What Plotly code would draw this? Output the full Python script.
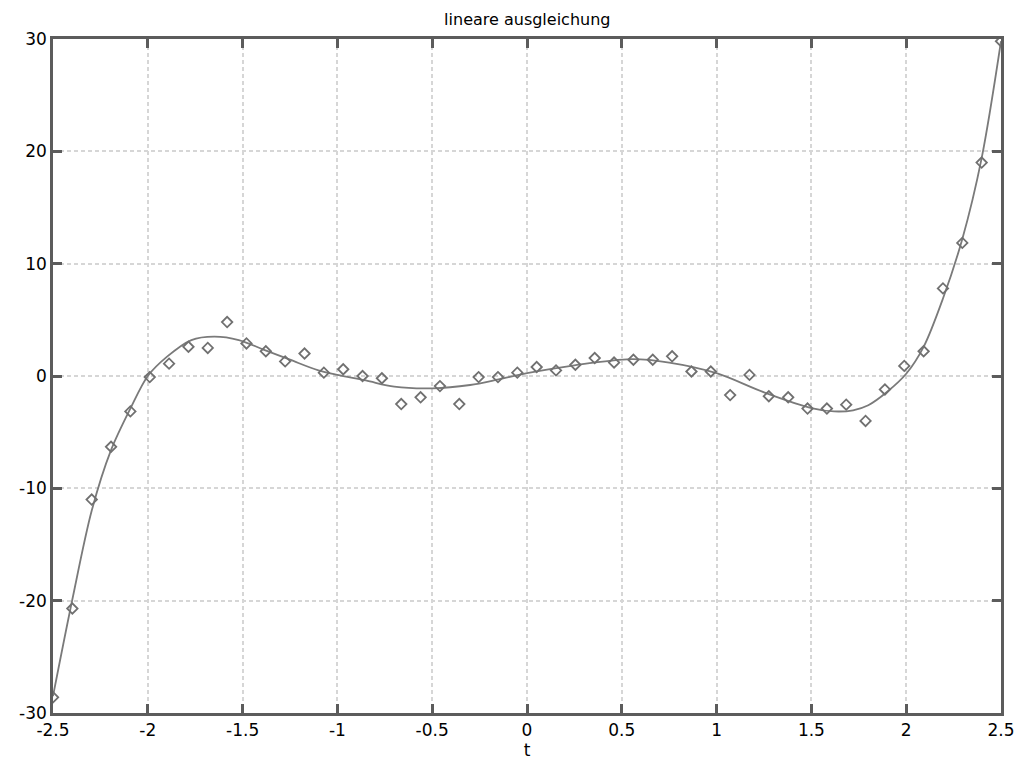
import numpy as np
import plotly.graph_objects as go

# measured samples: 50 equally spaced values of t on [-2.5, 2.5]
t_meas = np.linspace(-2.5, 2.5, 50)
y_meas = [
    -28.6, -20.7, -11.0, -6.3, -3.15, -0.1, 1.1, 2.6, 2.5, 4.8,
    2.9, 2.2, 1.3, 2.0, 0.3, 0.6, 0.0, -0.2, -2.5, -1.9,
    -0.9, -2.5, -0.1, -0.1, 0.3, 0.8, 0.5, 1.0, 1.6, 1.2,
    1.45, 1.45, 1.75, 0.4, 0.4, -1.7, 0.1, -1.8, -1.9, -2.9,
    -2.9, -2.55, -4.0, -1.2, 0.9, 2.2, 7.8, 11.85, 19.0, 29.8,
]

# least-squares curve, sampled at knots
t_fit = [-2.5, -2.398, -2.296, -2.194, -2.092, -2.0, -1.9, -1.77, -1.65, -1.52,
         -1.39, -1.25, -1.1, -1.0, -0.85, -0.7, -0.5, -0.3, -0.15, 0.0,
         0.25, 0.55, 0.75, 1.0, 1.25, 1.5, 1.62, 1.72, 1.8, 1.9,
         2.0, 2.092, 2.194, 2.296, 2.398, 2.5]
y_fit = [-28.5, -19.9, -12.0, -6.6, -2.9, 0.0, 1.7, 3.2, 3.5, 3.2,
         2.35, 1.45, 0.5, 0.1, -0.4, -0.95, -1.1, -0.8, -0.3, 0.25,
         0.95, 1.5, 1.2, 0.25, -1.45, -2.85, -3.15, -3.05, -2.6, -1.4,
         0.2, 2.6, 6.9, 12.2, 19.4, 29.8]

x_ticks = [-2.5, -2, -1.5, -1, -0.5, 0, 0.5, 1, 1.5, 2, 2.5]
x_tick_text = ["-2.5", "-2", "-1.5", "-1", "-0.5", "0", "0.5", "1", "1.5", "2", "2.5"]
y_ticks = [-30, -20, -10, 0, 10, 20, 30]
y_tick_text = ["-30", "-20", "-10", "0", "10", "20", "30"]

FONT = "DejaVu Sans, Liberation Sans, Arial, sans-serif"

fig = go.Figure()
fig.add_trace(go.Scatter(
    x=t_fit, y=y_fit, mode="lines",
    line=dict(color="#7a7a7a", width=1.8, shape="spline", smoothing=0.9),
    hoverinfo="skip", showlegend=False,
))
fig.add_trace(go.Scatter(
    x=t_meas, y=y_meas, mode="markers",
    marker=dict(symbol="diamond-open", size=8, color="#707070",
                line=dict(width=1.8, color="#707070")),
    showlegend=False,
))

axis_common = dict(
    showline=True, linecolor="#5c5c5c", linewidth=2.5, mirror="ticks",
    ticks="inside", ticklen=9, tickwidth=2.5, tickcolor="#5c5c5c",
    showgrid=True, gridcolor="#d6d6d6", gridwidth=2, griddash="4px,3px",
    zeroline=False, automargin=False,
    tickfont=dict(family=FONT, size=17, color="#000000"),
)

fig.update_layout(
    width=1016, height=763,
    margin=dict(l=53, r=15, t=39, b=50),
    paper_bgcolor="white", plot_bgcolor="white",
    title=dict(text="lineare ausgleichung", x=0.519, xanchor="center",
               y=0.975, yanchor="middle",
               font=dict(family=FONT, size=16, color="#000000")),
    xaxis=dict(range=[-2.5, 2.5], tickvals=x_ticks, ticktext=x_tick_text,
               title=dict(text="t", standoff=4,
                          font=dict(family=FONT, size=17, color="#000000")),
               **axis_common),
    yaxis=dict(range=[-30, 30], tickvals=y_ticks, ticktext=y_tick_text,
               ticklabelstandoff=0, **axis_common),
)

fig.write_html("out.html")
